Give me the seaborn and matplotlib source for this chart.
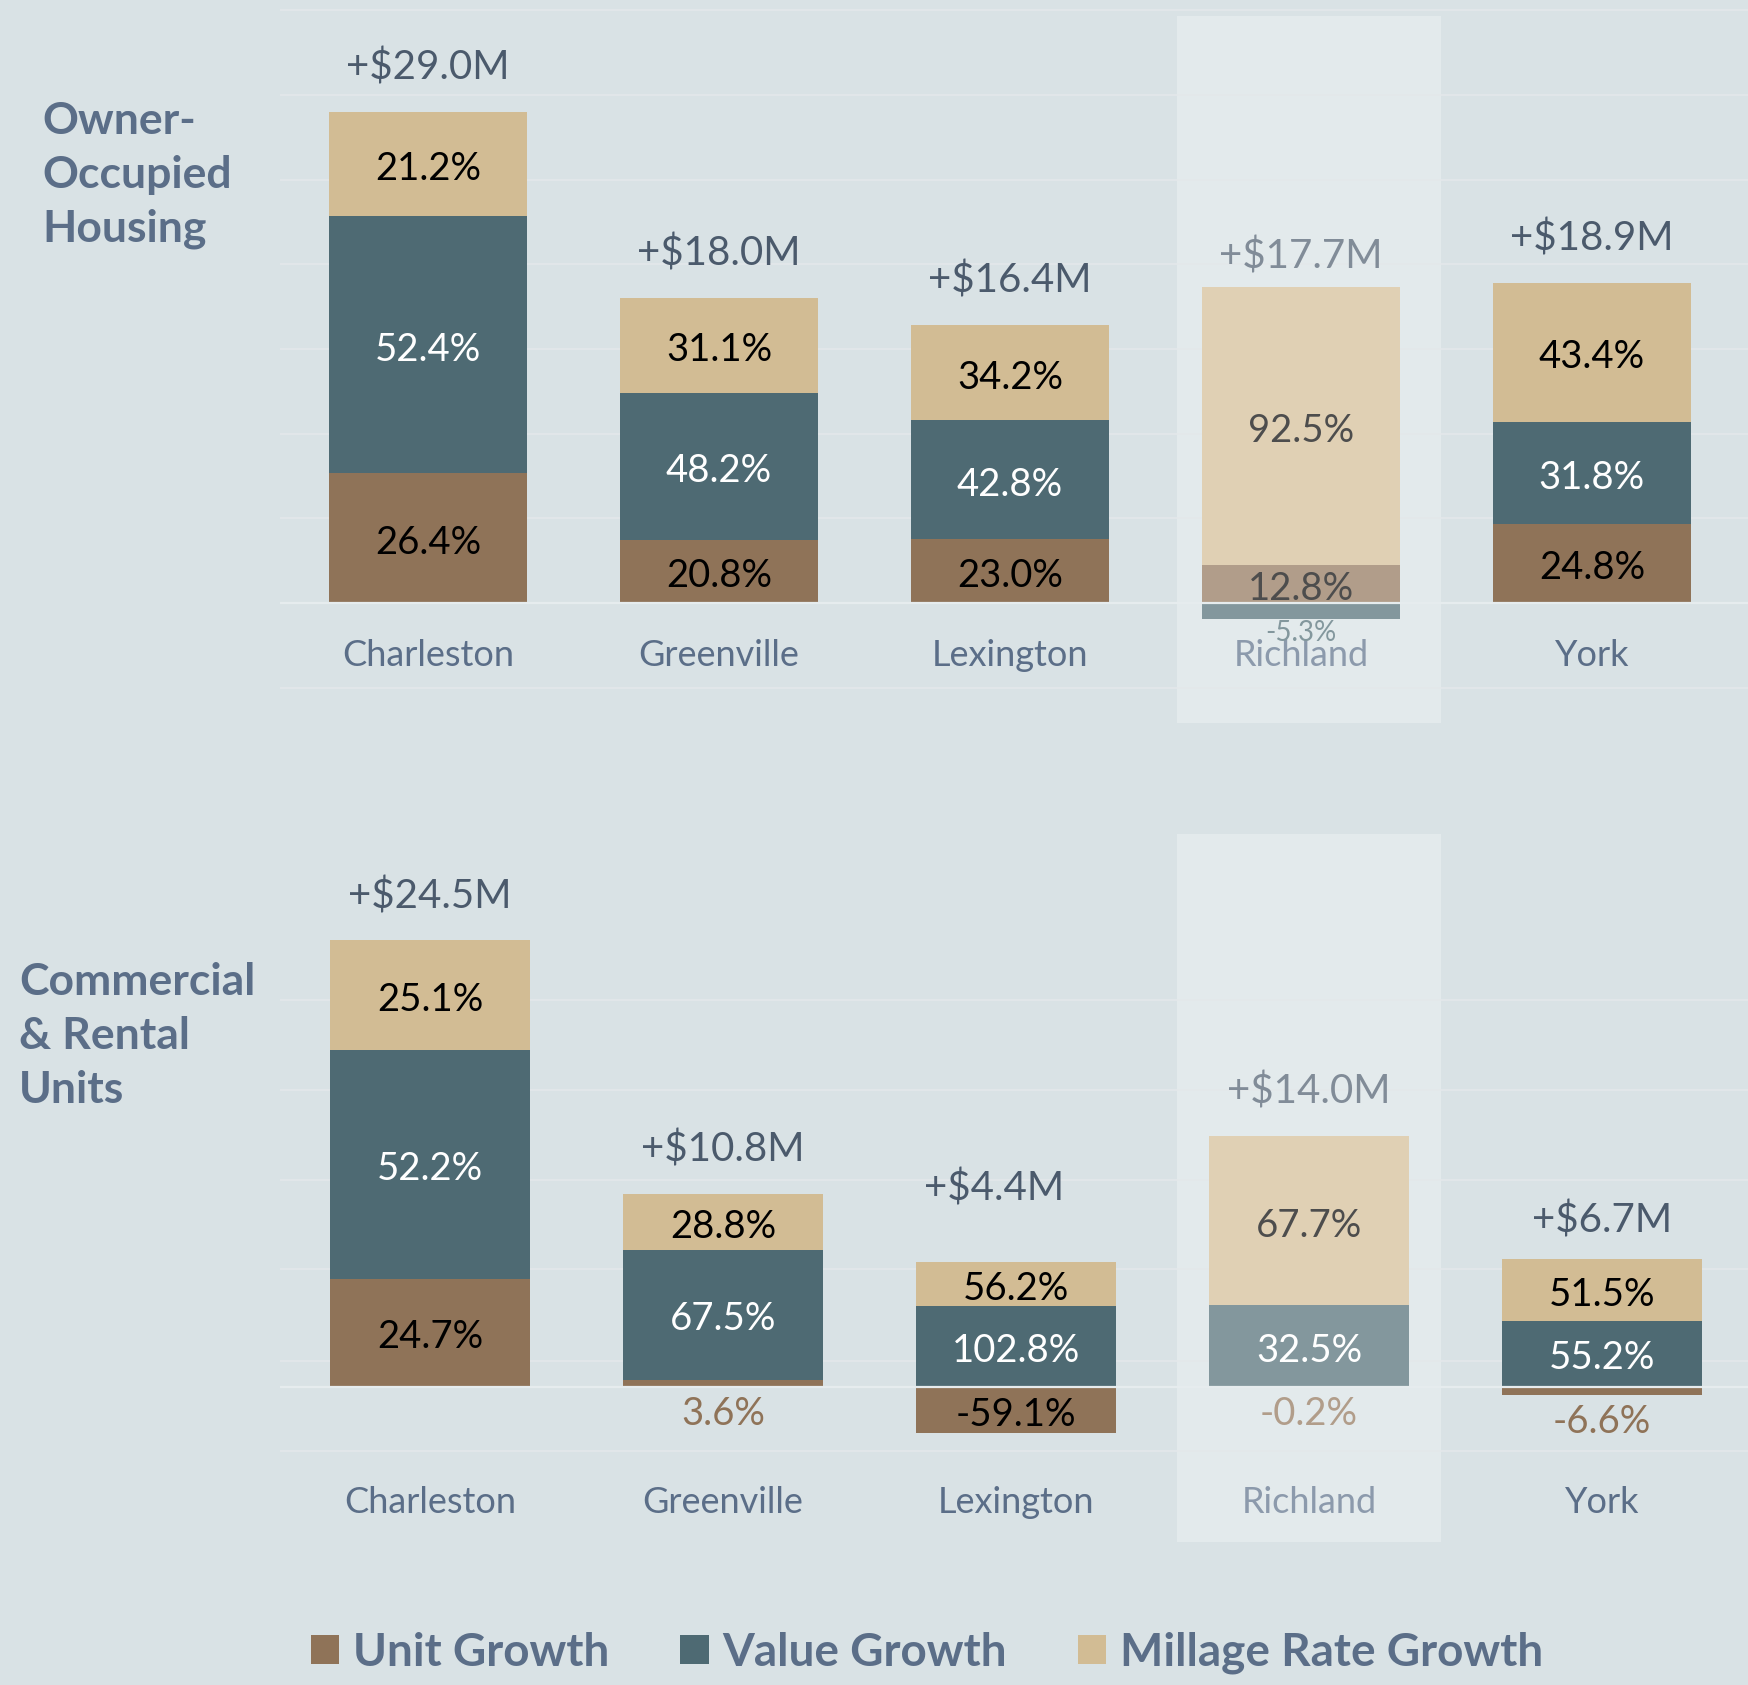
import numpy as np
import pandas as pd
import matplotlib.pyplot as plt
from matplotlib.colors import to_rgb
from matplotlib.patches import Rectangle, Patch
import seaborn as sns

# ----------------------------------------------------------------------
# Data: growth in tax revenue by county, split into three components
# ----------------------------------------------------------------------
counties = ["Charleston", "Greenville", "Lexington", "Richland", "York"]
components = ["Unit Growth", "Value Growth", "Millage Rate Growth"]
highlight = "Richland"

# Owner-Occupied Housing ($M total, component shares in %)
owner_total = [29.0, 18.0, 16.4, 17.7, 18.9]
owner_unit = [26.4, 20.8, 23.0, 12.8, 24.8]
owner_value = [52.4, 48.2, 42.8, -5.3, 31.8]
owner_millage = [21.2, 31.1, 34.2, 92.5, 43.4]

# Commercial & Rental Units
comm_total = [24.5, 10.8, 4.4, 14.0, 6.7]
comm_unit = [24.7, 3.6, -59.1, -0.2, -6.6]
comm_value = [52.2, 67.5, 102.8, 32.5, 55.2]
comm_millage = [25.1, 28.8, 56.2, 67.7, 51.5]

# ----------------------------------------------------------------------
# Style
# ----------------------------------------------------------------------
BG = "#d9e2e5"
HL = "#e3eaec"
GRID = "#e3e8ea"
SLATE = "#5b6e88"
TOTAL_TXT = "#4b5a6c"
COLORS = {"Unit Growth": "#8f7358", "Value Growth": "#4e6a73", "Millage Rate Growth": "#d2bc94"}
TXT = {"Unit Growth": "black", "Value Growth": "white", "Millage Rate Growth": "black"}

# a few total labels are nudged (points) to keep them clear of neighbours
TOTAL_NUDGE = {("top", "Richland"): (0, -10),
               ("bot", "Lexington"): (-16, 21),
               ("bot", "York"): (0, -4)}


def fade(c, county):
    # the highlighted county is drawn washed out (mixed with white)
    if county != highlight:
        return c
    return tuple(0.7 * v + 0.3 for v in to_rgb(c))


sns.set_style("white")
plt.rcParams["font.family"] = ["Lato", "DejaVu Sans"]

W, H = 1749, 1685
fig = plt.figure(figsize=(W / 100, H / 100), dpi=100, facecolor=BG)


def fig_rect(x0, y0, x1, y1):
    # pixel box (from top-left) -> figure fraction rectangle
    return Rectangle((x0 / W, 1 - y1 / H), (x1 - x0) / W, (y1 - y0) / H,
                     transform=fig.transFigure, facecolor=HL, edgecolor="none", zorder=-1)


# light band behind Richland in both panels
fig.add_artist(fig_rect(1177, 16, 1441, 723))
fig.add_artist(fig_rect(1177, 834, 1441, 1542))

ax_top = fig.add_axes([280 / W, 1 - 730 / H, (W - 280) / W, 730 / H])
ax_bot = fig.add_axes([280 / W, 1 - 1560 / H, (W - 280) / W, 780 / H])


def draw_panel(ax, key, total, unit, value, millage, ylim, xlim, yticks, name_y,
               out_size, out_off):
    df = pd.DataFrame({"county": counties, "total": total,
                       "Unit Growth": unit, "Value Growth": value,
                       "Millage Rate Growth": millage})
    pos_base = np.zeros(len(df))
    neg_base = np.zeros(len(df))
    segs = []
    for comp in components:
        amt = (df[comp] / 100 * df["total"]).to_numpy()
        bottom = np.where(amt >= 0, pos_base, neg_base)
        n_before = len(ax.patches)
        sns.barplot(x=df["county"], y=amt, order=counties, bottom=bottom,
                    color=COLORS[comp], saturation=1, width=0.682,
                    errorbar=None, linewidth=0, ax=ax, zorder=2)
        for i, p in enumerate(ax.patches[n_before:]):
            p.set_facecolor(fade(COLORS[comp], counties[i]))
        for i in range(len(df)):
            segs.append((i, comp, df[comp][i], bottom[i], amt[i]))
        pos_base = pos_base + np.where(amt >= 0, amt, 0)
        neg_base = neg_base + np.where(amt < 0, amt, 0)

    # segment labels
    for i, comp, pct, b, h in segs:
        if abs(h) >= 1.5:
            ax.annotate(f"{pct:.1f}%", (i, b + h / 2), xytext=(0, -3.5),
                        textcoords="offset points", ha="center", va="center",
                        fontsize=27.5, color=fade(TXT[comp], counties[i]), zorder=4)
        else:
            ax.annotate(f"{pct:.1f}%", (i, neg_base[i]), xytext=(0, out_off),
                        textcoords="offset points", ha="center", va="center",
                        fontsize=out_size, color=fade(COLORS[comp], counties[i]), zorder=4)

    # totals above the bars, county names underneath
    for i in range(len(df)):
        dx, dy = TOTAL_NUDGE.get((key, counties[i]), (0, 0))
        ax.annotate(f"+${total[i]:.1f}M", (i, pos_base[i]), xytext=(dx, 32 + dy),
                    textcoords="offset points", ha="center", va="center",
                    fontsize=29, color=fade(TOTAL_TXT, counties[i]))
        ax.text(i, name_y, counties[i], ha="center", va="center", fontsize=26,
                color=fade(SLATE, counties[i]))

    ax.set_facecolor("none")
    ax.set_xlim(*xlim)
    ax.set_ylim(*ylim)
    ax.set_yticks(yticks)
    ax.set_yticklabels([])
    ax.set_xticks([])
    ax.set_xlabel("")
    ax.set_ylabel("")
    for y in yticks:
        ax.axhline(y, color=GRID, lw=1.2, zorder=1)
    ax.axhline(0, color="#e6ecee", lw=1.6, zorder=3)
    ax.tick_params(axis="y", length=4, width=1, color="#a9b3b8", direction="out")
    sns.despine(ax=ax, left=True, bottom=True)


draw_panel(ax_top, "top", owner_total, owner_unit, owner_value, owner_millage,
           ylim=(-7.5, 35.62), xlim=(-0.509, 4.54),
           yticks=np.arange(-5, 36, 5), name_y=-3.1, out_size=20, out_off=-10.5)

draw_panel(ax_bot, "bot", comm_total, comm_unit, comm_value, comm_millage,
           ylim=(-9.71, 33.98), xlim=(-0.512, 4.502),
           yticks=[-3.58, 1.45, 6.57, 11.57, 16.64, 21.63], name_y=-6.5,
           out_size=27.5, out_off=-19.5)

# section titles
fig.text(42 / W, 1 - 175 / H, "Owner-\nOccupied\nHousing", ha="left", va="center",
         fontsize=32, fontweight="bold", color=SLATE, linespacing=1.42)
fig.text(19 / W, 1 - 1036 / H, "Commercial\n& Rental\nUnits", ha="left", va="center",
         fontsize=32, fontweight="bold", color=SLATE, linespacing=1.42)

# legend
handles = [Patch(facecolor=COLORS[c], edgecolor="none", label=c) for c in components]
leg = fig.legend(handles=handles, loc="center", bbox_to_anchor=(927 / W, 1 - 1653 / H),
                 ncol=3, frameon=False, handlelength=0.62, handleheight=0.62,
                 handletextpad=0.3, columnspacing=1.55,
                 prop={"weight": "bold", "size": 33})
for t in leg.get_texts():
    t.set_color(SLATE)

fig.savefig("out.png", dpi=100, facecolor=BG)
